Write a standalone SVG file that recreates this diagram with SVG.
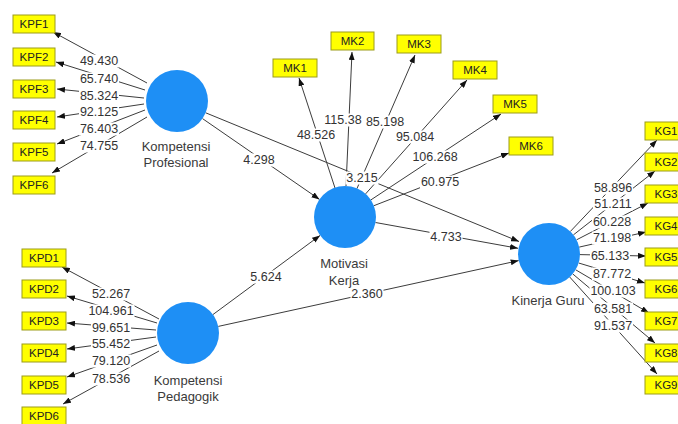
<svg xmlns="http://www.w3.org/2000/svg" width="678" height="424" viewBox="0 0 678 424">
<defs>
<marker id="ah" viewBox="0 0 8 6" refX="8" refY="3" markerWidth="8" markerHeight="6" markerUnits="userSpaceOnUse" orient="auto">
<path d="M0,0 L8,3 L0,6 z" fill="#111"/>
</marker>
<style>
.lv circle{fill:#1e8ff5}
.lv text{font-family:"Liberation Sans",Arial,sans-serif;font-size:13px;fill:#3a3a3a;text-anchor:middle}
.ind rect{fill:#ffff00;stroke:#9c9c1a;stroke-width:1}
.ind text{font-family:"Liberation Sans",Arial,sans-serif;font-size:11.5px;fill:#222;text-anchor:middle}
.cn line{stroke:#3c3c3c;stroke-width:1;marker-end:url(#ah)}
.lb rect{fill:#fff}
.lb text{font-family:"Liberation Sans",Arial,sans-serif;font-size:12.5px;fill:#333;text-anchor:middle;dominant-baseline:central}
</style>
</defs>
<rect width="678" height="424" fill="#fff"/>

<g id="connectors" class="cn">
<line x1="147" y1="83" x2="53" y2="32"/>
<line x1="145" y1="90" x2="56" y2="62"/>
<line x1="144" y1="98" x2="57" y2="89"/>
<line x1="144" y1="104" x2="57" y2="117"/>
<line x1="145" y1="110" x2="57" y2="144"/>
<line x1="147" y1="117" x2="52" y2="173"/>
<line x1="159" y1="319" x2="62" y2="267"/>
<line x1="157" y1="323" x2="67" y2="296"/>
<line x1="156" y1="330" x2="67" y2="323"/>
<line x1="156" y1="337" x2="67" y2="349"/>
<line x1="157" y1="345" x2="67" y2="377"/>
<line x1="159" y1="351" x2="63" y2="404"/>
<line x1="335" y1="188" x2="299" y2="78"/>
<line x1="346" y1="186" x2="352" y2="52"/>
<line x1="357" y1="188.5" x2="415" y2="55"/>
<line x1="365.6" y1="193.9" x2="467" y2="80"/>
<line x1="370.9" y1="199.9" x2="501" y2="114"/>
<line x1="373.9" y1="205.7" x2="509" y2="153"/>
<line x1="570.3" y1="231.5" x2="657" y2="140"/>
<line x1="573.4" y1="234.9" x2="655" y2="171"/>
<line x1="576.6" y1="239.8" x2="648" y2="203"/>
<line x1="579.2" y1="247.1" x2="646" y2="232"/>
<line x1="580" y1="254.6" x2="646" y2="256"/>
<line x1="578.7" y1="263" x2="645" y2="283"/>
<line x1="575.7" y1="269.8" x2="649" y2="313"/>
<line x1="572.7" y1="273.9" x2="655" y2="343"/>
<line x1="569.7" y1="277" x2="657" y2="374"/>
<line x1="202.5" y1="118.6" x2="319.5" y2="199.4"/>
<line x1="205.7" y1="112.8" x2="519" y2="241.5"/>
<line x1="375.5" y1="222.5" x2="518" y2="248.3"/>
<line x1="212.9" y1="314.6" x2="320.1" y2="235.4"/>
<line x1="218.3" y1="326.4" x2="518.7" y2="260.6"/>
</g>

<g id="labels" class="lb">
<rect x="79" y="54.5" width="40" height="13"/><text x="99" y="61">49.430</text>
<rect x="79" y="72.5" width="40" height="13"/><text x="99" y="79">65.740</text>
<rect x="79" y="89.5" width="40" height="13"/><text x="99" y="96">85.324</text>
<rect x="79" y="105.5" width="40" height="13"/><text x="99" y="112">92.125</text>
<rect x="79" y="122.5" width="40" height="13"/><text x="99" y="129">76.403</text>
<rect x="79" y="139.5" width="40" height="13"/><text x="99" y="146">74.755</text>
<rect x="91" y="287.5" width="40" height="13"/><text x="111" y="294">52.267</text>
<rect x="87.5" y="304.5" width="47" height="13"/><text x="111" y="311">104.961</text>
<rect x="91" y="321.5" width="40" height="13"/><text x="111" y="328">99.651</text>
<rect x="91" y="337.5" width="40" height="13"/><text x="111" y="344">55.452</text>
<rect x="91" y="354.5" width="40" height="13"/><text x="111" y="361">79.120</text>
<rect x="91" y="372.5" width="40" height="13"/><text x="111" y="379">78.536</text>
<rect x="296" y="128.5" width="40" height="13"/><text x="316" y="135">48.526</text>
<rect x="323" y="113.5" width="40" height="13"/><text x="343" y="120">115.38</text>
<rect x="365" y="115.5" width="40" height="13"/><text x="385" y="122">85.198</text>
<rect x="395" y="130.5" width="40" height="13"/><text x="415" y="137">95.084</text>
<rect x="411.5" y="150.5" width="47" height="13"/><text x="435" y="157">106.268</text>
<rect x="420" y="175.5" width="40" height="13"/><text x="440" y="182">60.975</text>
<rect x="593" y="181.5" width="40" height="13"/><text x="613" y="188">58.896</text>
<rect x="593" y="197.5" width="40" height="13"/><text x="613" y="204">51.211</text>
<rect x="592" y="215.5" width="40" height="13"/><text x="612" y="222">60.228</text>
<rect x="592" y="231.5" width="40" height="13"/><text x="612" y="238">71.198</text>
<rect x="590" y="249.5" width="40" height="13"/><text x="610" y="256">65.133</text>
<rect x="592" y="267.5" width="40" height="13"/><text x="612" y="274">87.772</text>
<rect x="589.5" y="284.5" width="47" height="13"/><text x="613" y="291">100.103</text>
<rect x="593" y="302.5" width="40" height="13"/><text x="613" y="309">63.581</text>
<rect x="593" y="319.5" width="40" height="13"/><text x="613" y="326">91.537</text>
<rect x="242.5" y="153.5" width="33" height="13"/><text x="259" y="160">4.298</text>
<rect x="345.5" y="171.5" width="33" height="13"/><text x="362" y="178">3.215</text>
<rect x="429.5" y="230.5" width="33" height="13"/><text x="446" y="237">4.733</text>
<rect x="249.5" y="270.5" width="33" height="13"/><text x="266" y="277">5.624</text>
<rect x="350.5" y="287.5" width="33" height="13"/><text x="367" y="294">2.360</text>
</g>

<g id="KP" class="lv"><circle cx="177" cy="101" r="31"/><text x="176" y="151">Kompetensi</text><text x="176" y="167">Profesional</text></g>
<g id="MKv" class="lv"><circle cx="345" cy="217" r="31"/><text x="344" y="268">Motivasi</text><text x="344" y="285">Kerja</text></g>
<g id="KPD" class="lv"><circle cx="188" cy="333" r="31"/><text x="188" y="385">Kompetensi</text><text x="188" y="401">Pedagogik</text></g>
<g id="KGv" class="lv"><circle cx="549" cy="254" r="31"/><text x="548" y="305">Kinerja Guru</text></g>

<g id="KPF1" class="ind"><rect x="13" y="15" width="42" height="18"/><text x="34" y="28">KPF1</text></g>
<g id="KPF2" class="ind"><rect x="13" y="48" width="42" height="18"/><text x="34" y="61">KPF2</text></g>
<g id="KPF3" class="ind"><rect x="13" y="80" width="42" height="18"/><text x="34" y="93">KPF3</text></g>
<g id="KPF4" class="ind"><rect x="13" y="111" width="42" height="18"/><text x="34" y="124">KPF4</text></g>
<g id="KPF5" class="ind"><rect x="13" y="143" width="42" height="18"/><text x="34" y="156">KPF5</text></g>
<g id="KPF6" class="ind"><rect x="13" y="176" width="42" height="18"/><text x="34" y="189">KPF6</text></g>

<g id="KPD1" class="ind"><rect x="22" y="249" width="44" height="18"/><text x="44" y="262">KPD1</text></g>
<g id="KPD2" class="ind"><rect x="22" y="280" width="44" height="18"/><text x="44" y="293">KPD2</text></g>
<g id="KPD3" class="ind"><rect x="22" y="312" width="44" height="18"/><text x="44" y="325">KPD3</text></g>
<g id="KPD4" class="ind"><rect x="22" y="344" width="44" height="18"/><text x="44" y="357">KPD4</text></g>
<g id="KPD5" class="ind"><rect x="22" y="376" width="44" height="18"/><text x="44" y="389">KPD5</text></g>
<g id="KPD6" class="ind"><rect x="22" y="407" width="44" height="18"/><text x="44" y="420">KPD6</text></g>

<g id="MK1" class="ind"><rect x="273" y="59" width="44" height="18"/><text x="295" y="72">MK1</text></g>
<g id="MK2" class="ind"><rect x="331" y="32" width="43" height="18"/><text x="352.5" y="45">MK2</text></g>
<g id="MK3" class="ind"><rect x="397" y="35" width="44" height="18"/><text x="419" y="48">MK3</text></g>
<g id="MK4" class="ind"><rect x="453" y="61" width="44" height="18"/><text x="475" y="74">MK4</text></g>
<g id="MK5" class="ind"><rect x="493" y="95" width="44" height="18"/><text x="515" y="108">MK5</text></g>
<g id="MK6" class="ind"><rect x="509" y="137" width="44" height="18"/><text x="531" y="150">MK6</text></g>

<g id="KG1" class="ind"><rect x="645" y="122" width="40" height="18"/><text x="666" y="135">KG1</text></g>
<g id="KG2" class="ind"><rect x="645" y="153" width="40" height="18"/><text x="666" y="166">KG2</text></g>
<g id="KG3" class="ind"><rect x="645" y="185" width="40" height="18"/><text x="666" y="198">KG3</text></g>
<g id="KG4" class="ind"><rect x="645" y="217" width="40" height="18"/><text x="666" y="230">KG4</text></g>
<g id="KG5" class="ind"><rect x="645" y="248" width="40" height="18"/><text x="666" y="261">KG5</text></g>
<g id="KG6" class="ind"><rect x="645" y="280" width="40" height="18"/><text x="666" y="293">KG6</text></g>
<g id="KG7" class="ind"><rect x="645" y="312" width="40" height="18"/><text x="666" y="325">KG7</text></g>
<g id="KG8" class="ind"><rect x="645" y="344" width="40" height="18"/><text x="666" y="357">KG8</text></g>
<g id="KG9" class="ind"><rect x="645" y="376" width="40" height="18"/><text x="666" y="389">KG9</text></g>
</svg>
